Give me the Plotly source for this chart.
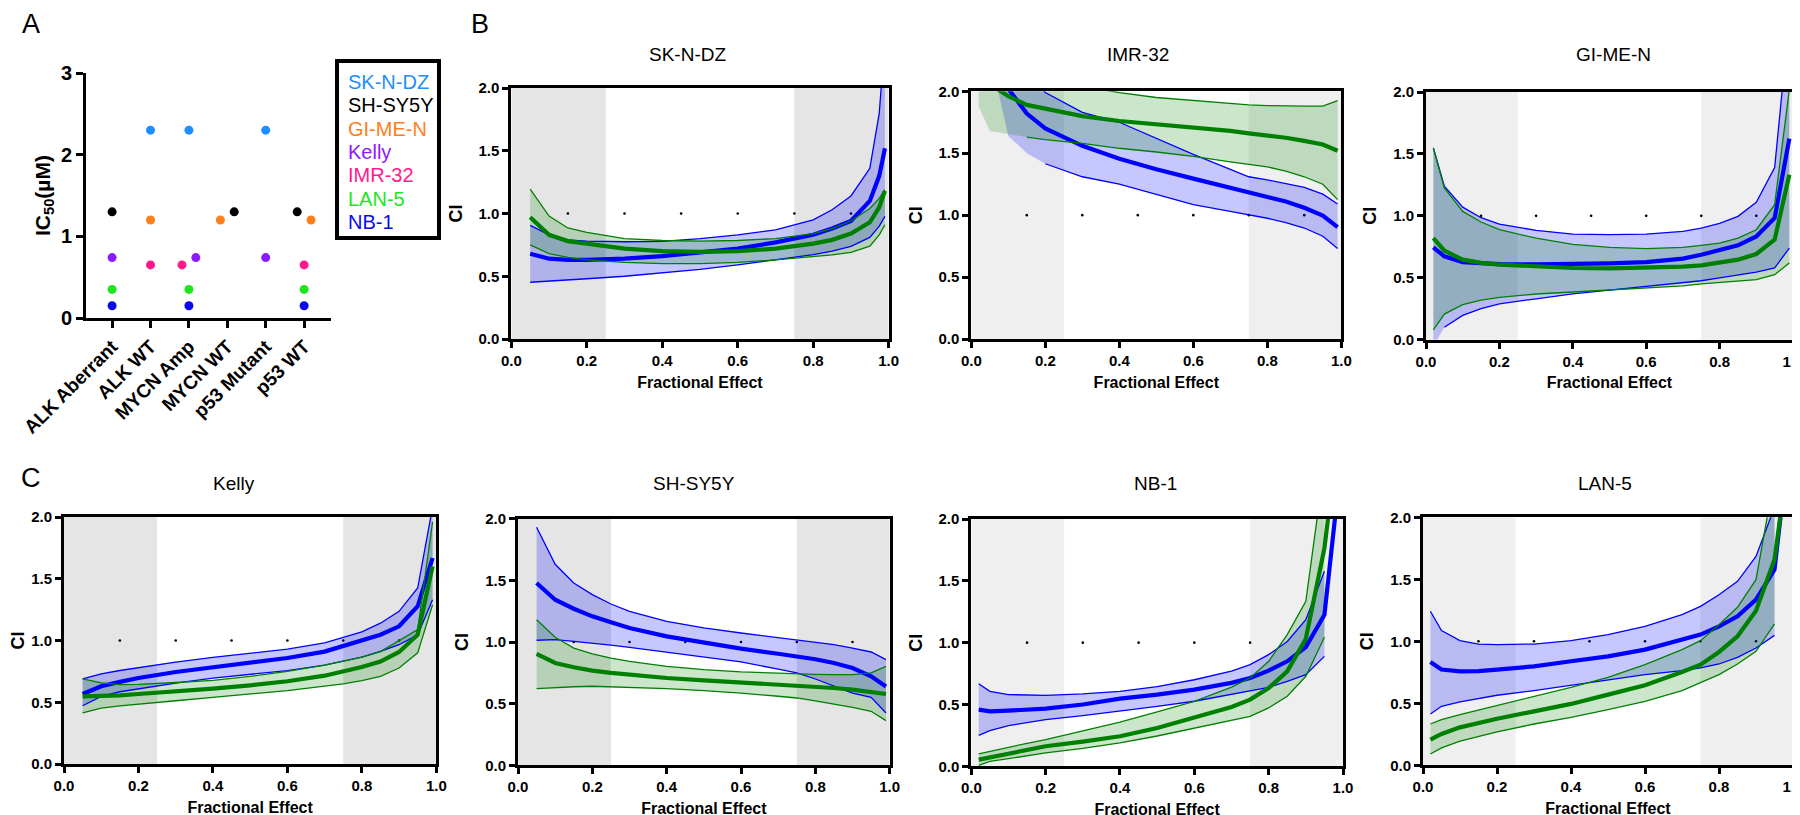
import plotly.graph_objects as go

FONT = "Arial, 'Liberation Sans', Helvetica, sans-serif"
OX, OY = 0, 0
FW, FH = 1800 - OX, 815 - OY

# ---------------- Panel A data ----------------
categories = ["ALK Aberrant", "ALK WT", "MYCN Amp", "MYCN WT", "p53 Mutant", "p53 WT"]
cell_lines = ["SK-N-DZ", "SH-SY5Y", "GI-ME-N", "Kelly", "IMR-32", "LAN-5", "NB-1"]
line_colors = ["#1e8fff", "#000000", "#ff7f1a", "#8c1aff", "#ff1a8c", "#1ee61e", "#0a0af0"]
ic50 = [2.3, 1.3, 1.2, 0.74, 0.65, 0.35, 0.15]
membership = {
    "ALK Aberrant": ["SH-SY5Y", "Kelly", "LAN-5", "NB-1"],
    "ALK WT": ["SK-N-DZ", "GI-ME-N", "IMR-32"],
    "MYCN Amp": ["SK-N-DZ", "IMR-32", "Kelly", "LAN-5", "NB-1"],
    "MYCN WT": ["GI-ME-N", "SH-SY5Y"],
    "p53 Mutant": ["SK-N-DZ", "Kelly"],
    "p53 WT": ["SH-SY5Y", "GI-ME-N", "IMR-32", "LAN-5", "NB-1"],
}
jitter_side = {("MYCN Amp", "IMR-32"): -1, ("MYCN Amp", "Kelly"): 1,
               ("MYCN WT", "GI-ME-N"): -1, ("MYCN WT", "SH-SY5Y"): 1,
               ("p53 WT", "SH-SY5Y"): -1, ("p53 WT", "GI-ME-N"): 1}

# ---------------- Panels B/C data (Fa-CI curves) ----------------
ref_dots_fa = [0.15, 0.30, 0.45, 0.60, 0.75, 0.90]

skndz = dict(
    fa=[0.05, 0.1, 0.15, 0.2, 0.3, 0.4, 0.5, 0.6, 0.7, 0.8, 0.85, 0.9, 0.95, 0.975, 0.99],
    blue_up=[0.906, 0.83, 0.79, 0.78, 0.775, 0.778, 0.80, 0.83, 0.87, 0.95, 1.03, 1.14, 1.36, 1.80, 2.4],
    blue_mid=[0.68, 0.64, 0.63, 0.63, 0.64, 0.66, 0.69, 0.72, 0.77, 0.83, 0.88, 0.94, 1.10, 1.30, 1.52],
    blue_lo=[0.452, 0.46, 0.47, 0.48, 0.50, 0.526, 0.555, 0.59, 0.63, 0.672, 0.70, 0.738, 0.81, 0.90, 0.977],
    green_up=[1.195, 0.98, 0.885, 0.85, 0.80, 0.785, 0.78, 0.785, 0.80, 0.84, 0.88, 0.94, 1.04, 1.12, 1.19],
    green_mid=[0.97, 0.83, 0.78, 0.76, 0.72, 0.70, 0.695, 0.70, 0.72, 0.76, 0.79, 0.84, 0.93, 1.05, 1.18],
    green_lo=[0.75, 0.68, 0.65, 0.63, 0.61, 0.60, 0.60, 0.61, 0.63, 0.655, 0.67, 0.69, 0.74, 0.83, 0.91],
)
imr32 = dict(
    fa=[0.02, 0.05, 0.1, 0.15, 0.2, 0.3, 0.4, 0.5, 0.6, 0.7, 0.75, 0.8, 0.85, 0.9, 0.95, 0.99],
    blue_up=[3.2, 2.9, 2.5, 2.2, 1.99, 1.83, 1.75, 1.62, 1.49, 1.37, 1.31, 1.285, 1.255, 1.225, 1.17, 1.09],
    blue_mid=[3.0, 2.6, 2.02, 1.82, 1.70, 1.56, 1.455, 1.37, 1.295, 1.22, 1.18, 1.15, 1.11, 1.06, 0.996, 0.904],
    blue_lo=[2.9, 2.3, 1.64, 1.50, 1.415, 1.31, 1.25, 1.165, 1.085, 1.03, 1.004, 0.975, 0.94, 0.896, 0.83, 0.73],
    green_up=[2.6, 2.5, 2.4, 2.3, 2.2, 2.04, 1.99, 1.95, 1.925, 1.905, 1.89, 1.885, 1.88, 1.88, 1.88, 1.925],
    green_mid=[2.3, 2.06, 1.96, 1.89, 1.86, 1.80, 1.76, 1.735, 1.71, 1.68, 1.66, 1.645, 1.625, 1.60, 1.57, 1.52],
    green_lo=[1.88, 1.68, 1.655, 1.63, 1.61, 1.58, 1.54, 1.51, 1.475, 1.43, 1.413, 1.39, 1.355, 1.31, 1.25, 1.125],
)
gimen = dict(
    fa=[0.02, 0.05, 0.1, 0.15, 0.2, 0.3, 0.4, 0.5, 0.6, 0.7, 0.75, 0.8, 0.85, 0.9, 0.95, 0.99],
    blue_up=[1.548, 1.24, 1.07, 0.985, 0.934, 0.883, 0.853, 0.848, 0.853, 0.875, 0.90, 0.94, 0.996, 1.11, 1.39, 2.6],
    blue_mid=[0.746, 0.673, 0.627, 0.615, 0.611, 0.608, 0.611, 0.617, 0.627, 0.655, 0.686, 0.72, 0.762, 0.834, 0.982, 1.623],
    blue_lo=[-0.05, 0.10, 0.196, 0.25, 0.29, 0.33, 0.37, 0.40, 0.43, 0.46, 0.476, 0.50, 0.525, 0.546, 0.579, 0.74],
    green_up=[1.548, 1.225, 1.036, 0.95, 0.888, 0.82, 0.77, 0.745, 0.735, 0.745, 0.762, 0.78, 0.82, 0.888, 1.09, 2.02],
    green_mid=[0.82, 0.719, 0.646, 0.62, 0.606, 0.59, 0.579, 0.576, 0.579, 0.59, 0.60, 0.62, 0.646, 0.692, 0.808, 1.332],
    green_lo=[0.08, 0.207, 0.283, 0.32, 0.342, 0.369, 0.385, 0.40, 0.415, 0.435, 0.45, 0.46, 0.47, 0.485, 0.525, 0.62],
)
kelly = dict(
    fa=[0.05, 0.1, 0.15, 0.2, 0.3, 0.4, 0.5, 0.6, 0.7, 0.75, 0.8, 0.85, 0.9, 0.95, 0.99],
    blue_up=[0.69, 0.73, 0.757, 0.78, 0.825, 0.864, 0.895, 0.93, 0.98, 1.026, 1.07, 1.14, 1.236, 1.425, 2.08],
    blue_mid=[0.567, 0.63, 0.665, 0.696, 0.745, 0.785, 0.82, 0.858, 0.91, 0.953, 1.0, 1.047, 1.115, 1.277, 1.668],
    blue_lo=[0.472, 0.548, 0.585, 0.61, 0.655, 0.696, 0.725, 0.756, 0.80, 0.831, 0.865, 0.912, 0.966, 1.047, 1.33],
    green_up=[0.69, 0.656, 0.642, 0.645, 0.66, 0.677, 0.71, 0.75, 0.80, 0.83, 0.865, 0.91, 0.998, 1.088, 1.96],
    green_mid=[0.548, 0.548, 0.555, 0.567, 0.585, 0.61, 0.637, 0.67, 0.715, 0.75, 0.785, 0.83, 0.907, 1.047, 1.6],
    green_lo=[0.413, 0.453, 0.47, 0.486, 0.512, 0.54, 0.565, 0.594, 0.63, 0.648, 0.675, 0.71, 0.777, 0.9, 1.29],
)
shsy5y = dict(
    fa=[0.05, 0.1, 0.15, 0.2, 0.25, 0.3, 0.4, 0.5, 0.6, 0.7, 0.75, 0.8, 0.85, 0.9, 0.95, 0.99],
    blue_up=[1.93, 1.63, 1.478, 1.384, 1.308, 1.249, 1.168, 1.114, 1.073, 1.035, 1.019, 1.0, 0.978, 0.951, 0.919, 0.857],
    blue_mid=[1.478, 1.343, 1.27, 1.208, 1.16, 1.114, 1.046, 0.992, 0.946, 0.905, 0.884, 0.86, 0.83, 0.789, 0.722, 0.64],
    blue_lo=[1.014, 1.019, 1.005, 0.992, 0.975, 0.957, 0.919, 0.876, 0.838, 0.78, 0.749, 0.70, 0.64, 0.586, 0.551, 0.424],
    green_up=[1.181, 1.038, 0.951, 0.903, 0.87, 0.843, 0.803, 0.776, 0.757, 0.745, 0.741, 0.737, 0.735, 0.735, 0.749, 0.803],
    green_mid=[0.903, 0.83, 0.795, 0.768, 0.75, 0.735, 0.708, 0.689, 0.673, 0.655, 0.646, 0.637, 0.627, 0.614, 0.595, 0.578],
    green_lo=[0.622, 0.632, 0.637, 0.641, 0.637, 0.632, 0.622, 0.605, 0.586, 0.56, 0.546, 0.523, 0.497, 0.47, 0.438, 0.362],
)
nb1 = dict(
    fa=[0.02, 0.05, 0.1, 0.2, 0.3, 0.4, 0.5, 0.6, 0.7, 0.75, 0.8, 0.85, 0.9, 0.95, 0.98],
    blue_up=[0.668, 0.606, 0.58, 0.574, 0.585, 0.606, 0.645, 0.70, 0.77, 0.822, 0.903, 1.01, 1.186, 1.577, None],
    blue_mid=[0.458, 0.445, 0.45, 0.466, 0.50, 0.547, 0.58, 0.62, 0.675, 0.714, 0.774, 0.849, 0.965, 1.226, 2.05],
    blue_lo=[0.25, 0.288, 0.329, 0.377, 0.41, 0.445, 0.485, 0.526, 0.58, 0.612, 0.639, 0.687, 0.741, 0.889, None],
    green_up=[0.10, 0.121, 0.154, 0.216, 0.285, 0.358, 0.44, 0.526, 0.64, 0.714, 0.849, 1.065, 1.334, 2.44, None],
    green_mid=[0.054, 0.073, 0.10, 0.162, 0.20, 0.243, 0.31, 0.391, 0.48, 0.539, 0.633, 0.768, 1.032, 1.765, 2.5],
    green_lo=[0.008, 0.04, 0.062, 0.108, 0.145, 0.189, 0.245, 0.31, 0.37, 0.404, 0.472, 0.566, 0.728, 1.043, None],
)
lan5 = dict(
    fa=[0.02, 0.05, 0.1, 0.15, 0.2, 0.3, 0.4, 0.5, 0.6, 0.7, 0.75, 0.8, 0.85, 0.9, 0.95, 0.97],
    blue_up=[1.242, 1.086, 1.005, 0.978, 0.973, 0.978, 1.005, 1.054, 1.121, 1.215, 1.282, 1.376, 1.484, 1.685, 2.08, None],
    blue_mid=[0.833, 0.772, 0.758, 0.76, 0.772, 0.798, 0.839, 0.879, 0.933, 1.013, 1.054, 1.121, 1.202, 1.336, 1.578, 2.1],
    blue_lo=[0.414, 0.476, 0.511, 0.54, 0.565, 0.602, 0.645, 0.691, 0.731, 0.763, 0.785, 0.817, 0.871, 0.946, 1.048, None],
    green_up=[0.333, 0.368, 0.409, 0.445, 0.484, 0.556, 0.629, 0.71, 0.812, 0.933, 1.005, 1.134, 1.274, 1.497, 2.33, None],
    green_mid=[0.207, 0.253, 0.306, 0.343, 0.376, 0.435, 0.495, 0.57, 0.645, 0.753, 0.812, 0.914, 1.04, 1.247, 1.659, 2.1],
    green_lo=[0.091, 0.14, 0.194, 0.232, 0.269, 0.333, 0.387, 0.449, 0.516, 0.602, 0.664, 0.731, 0.817, 0.919, 1.14, None],
)

# ---------------- layout helpers (screen px -> paper fraction) ----------------
def px(x):
    return (x - OX) / FW

def py(y):
    return 1 - (y - OY) / FH

def xd(a, b):
    return [px(a), px(b)]

def yd(top, bot):
    return [py(bot), py(top)]

BLUE, GREEN = "#0000ff", "#008000"
BLUE_FILL, GREEN_FILL = "rgba(0,0,255,0.22)", "rgba(0,128,0,0.2)"

# (title, data, x-domain px, y-domain px, shade colour, title x px, title y px, first drawn index for bound lines)
panels = [
    ("SK-N-DZ", skndz, (503.3, 880.7), (80, 331), "#e5e5e5", 679, 46, {}),
    ("IMR-32", imr32, (963.3, 1333.3), (83.3, 331), "#efefef", 1130, 46, {"green_lo": 3, "blue_lo": 4}),
    ("GI-ME-N", gimen, (1418, 1785), (84, 331.7), "#efefef", 1605, 46, {"blue_lo": 1}),
    ("Kelly", kelly, (56, 428.3), (509, 756), "#e5e5e5", 226, 475, {}),
    ("SH-SY5Y", shsy5y, (510, 881.7), (510.7, 757.3), "#e5e5e5", 686, 475, {}),
    ("NB-1", nb1, (963.3, 1335), (511, 758.3), "#efefef", 1147, 475, {}),
    ("LAN-5", lan5, (1415, 1785), (509.3, 757.3), "#efefef", 1597, 475, {}),
]

fig = go.Figure()
layout = dict(
    width=FW, height=FH, margin=dict(l=0, r=0, t=0, b=0, pad=0, autoexpand=False),
    paper_bgcolor="white", plot_bgcolor="white", showlegend=False,
    font=dict(family=FONT, color="black"),
)
shapes, annotations = [], []

# ---------------- Panel A ----------------
JIT = 0.18
for name, col, val in zip(cell_lines, line_colors, ic50):
    xs, ys = [], []
    for ci, cat in enumerate(categories):
        if name in membership[cat]:
            xs.append(ci + JIT * jitter_side.get((cat, name), 0))
            ys.append(val)
    fig.add_trace(go.Scatter(x=xs, y=ys, mode="markers", name=name,
                             marker=dict(color=col, size=9, line=dict(width=0)),
                             xaxis="x", yaxis="y", cliponaxis=False))

layout["xaxis"] = dict(domain=xd(78, 323), range=[-0.68, 5.7], anchor="y", automargin=False,
                       tickvals=list(range(len(categories))), ticktext=categories,
                       tickangle=-45, showline=True, linewidth=3, linecolor="black",
                       ticks="outside", ticklen=7, tickwidth=3, tickcolor="black",
                       showgrid=False, zeroline=False, ticklabeloverflow="allow",
                       tickfont=dict(size=19, family=FONT, weight="bold"))
layout["yaxis"] = dict(domain=yd(65, 310), range=[0, 3], anchor="x", automargin=False,
                       tickvals=[0, 1, 2, 3], showline=True, linewidth=3, linecolor="black",
                       ticks="outside", ticklen=7, tickwidth=3, tickcolor="black",
                       showgrid=False, zeroline=False, ticklabeloverflow="allow",
                       tickfont=dict(size=20, family=FONT, weight="bold"),
                       title=dict(text="IC<sub>50</sub>(µM)", standoff=5,
                                  font=dict(size=21, family=FONT, weight="bold")))

# Legend box for panel A
shapes.append(dict(type="rect", xref="paper", yref="paper",
                   x0=px(329), x1=px(431), y0=py(230), y1=py(53),
                   line=dict(color="black", width=4), fillcolor="white", layer="above"))
for i, (name, col) in enumerate(zip(cell_lines, line_colors)):
    annotations.append(dict(text=name, x=px(338), y=py(74 + i * 23.3),
                            xref="paper", yref="paper", xanchor="left", yanchor="middle",
                            showarrow=False, font=dict(size=20, color=col, family=FONT)))

# ---------------- Panels B/C ----------------
tick_x = [0, 0.2, 0.4, 0.6, 0.8, 1.0]
tick_y = [0, 0.5, 1.0, 1.5, 2.0]

for k, (title, d, (xa, xb), (yt, yb), shade, tx, ty, line_from) in enumerate(panels):
    n = k + 2
    xa_name, ya_name = f"x{n}", f"y{n}"
    fa = d["fa"]

    # gray regions
    for x0, x1 in [(0, 0.25), (0.75, 1.0)]:
        shapes.append(dict(type="rect", xref=xa_name, yref=f"{ya_name} domain",
                           x0=x0, x1=x1, y0=0, y1=1, fillcolor=shade,
                           line=dict(width=0), layer="below"))

    # reference dots at CI = 1
    fig.add_trace(go.Scatter(x=ref_dots_fa, y=[1.0] * len(ref_dots_fa), mode="markers",
                             marker=dict(color="black", size=2.6), xaxis=xa_name, yaxis=ya_name,
                             hoverinfo="skip"))

    for drug, col, fcol in [("blue", BLUE, BLUE_FILL), ("green", GREEN, GREEN_FILL)]:
        up, lo = d[f"{drug}_up"], d[f"{drug}_lo"]
        idx = [i for i in range(len(fa)) if up[i] is not None and lo[i] is not None]
        fx = [fa[i] for i in idx] + [fa[i] for i in reversed(idx)]
        fy = [up[i] for i in idx] + [lo[i] for i in reversed(idx)]
        fig.add_trace(go.Scatter(x=fx, y=fy, mode="lines", fill="toself", fillcolor=fcol,
                                 line=dict(width=0), xaxis=xa_name, yaxis=ya_name,
                                 hoverinfo="skip"))

    for drug, col in [("blue", BLUE), ("green", GREEN)]:
        for part, w in [("up", 1.3), ("lo", 1.3), ("mid", 4.2)]:
            key = f"{drug}_{part}"
            vals = d[key]
            s = line_from.get(key, 0)
            fig.add_trace(go.Scatter(x=fa[s:], y=vals[s:], mode="lines",
                                     line=dict(color=col, width=w), connectgaps=False,
                                     xaxis=xa_name, yaxis=ya_name, name=f"{title} {key}"))

    common = dict(showline=True, linewidth=3, linecolor="black", mirror=True, automargin=False,
                  ticks="outside", ticklen=6, tickwidth=3, tickcolor="black",
                  showgrid=False, zeroline=False, ticklabeloverflow="allow",
                  tickfont=dict(size=15, family=FONT, weight="bold"))
    layout[f"xaxis{n}"] = dict(domain=xd(xa, xb), range=[0, 1], anchor=ya_name,
                               tickvals=tick_x, ticktext=[f"{v:.1f}" for v in tick_x],
                               title=dict(text="Fractional Effect", standoff=9,
                                          font=dict(size=16, family=FONT, weight="bold")),
                               **common)
    layout[f"yaxis{n}"] = dict(domain=yd(yt, yb), range=[0, 2], anchor=xa_name,
                               tickvals=tick_y, ticktext=[f"{v:.1f}" for v in tick_y],
                               title=dict(text="CI", standoff=12,
                                          font=dict(size=18, family=FONT, weight="bold")),
                               **common)
    annotations.append(dict(text=title, x=px(tx), y=py(ty), xref="paper", yref="paper",
                            xanchor="center", yanchor="middle", showarrow=False,
                            font=dict(size=19, family=FONT, color="black")))

# panel letters
for letter, lx, ly in [("A", 23, 16), ("B", 472, 16), ("C", 23, 470)]:
    annotations.append(dict(text=letter, x=px(lx), y=py(ly), xref="paper", yref="paper",
                            xanchor="center", yanchor="middle", showarrow=False,
                            font=dict(size=27, family=FONT, color="black")))

layout["shapes"] = shapes
layout["annotations"] = annotations
fig.update_layout(**layout)
fig.write_html("out.html")
